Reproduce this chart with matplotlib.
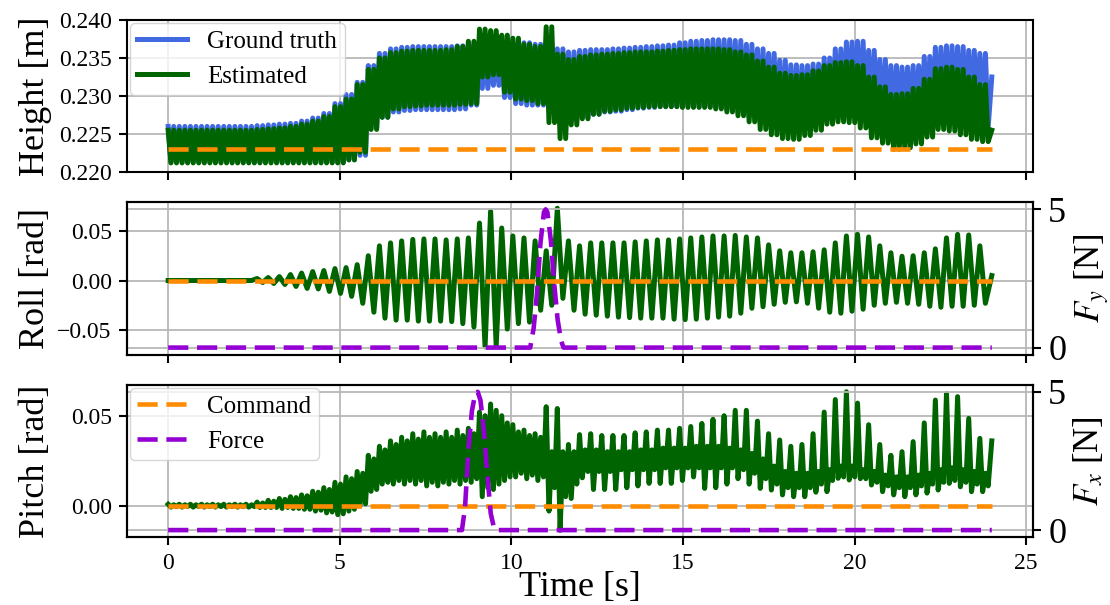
import numpy as np
import matplotlib
matplotlib.use("Agg")
import matplotlib.pyplot as plt
from matplotlib.ticker import FormatStrFormatter

plt.rcParams['font.family'] = 'serif'
plt.rcParams['font.serif'] = ['Liberation Serif', 'DejaVu Serif']
plt.rcParams['mathtext.fontset'] = 'stix'
plt.rcParams['axes.linewidth'] = 1.5
plt.rcParams['xtick.major.width'] = 1.5
plt.rcParams['ytick.major.width'] = 1.5
plt.rcParams['xtick.major.size'] = 5.5
plt.rcParams['ytick.major.size'] = 5.5
plt.rcParams['xtick.major.pad'] = 6
plt.rcParams['ytick.major.pad'] = 5.5
plt.rcParams['grid.color'] = '#b8b8b8'
plt.rcParams['grid.linewidth'] = 1.3

# ------------------------
# Data (one value per gait cycle)
# ------------------------
GAIT_PERIOD = 0.324     # s, spacing of the roll peaks
T_END = 24.0

# height [m]
gt_hi = [0.2260, 0.2260, 0.2260, 0.2260, 0.2260, 0.2260, 0.2260, 0.2260,
         0.2261, 0.2262, 0.2263, 0.2264, 0.2267, 0.2271, 0.2277, 0.2290,
         0.2302, 0.2318, 0.2340, 0.2356, 0.2362, 0.2364, 0.2365, 0.2365,
         0.2365, 0.2365, 0.2366, 0.2368, 0.2365, 0.2362, 0.2366, 0.2370,
         0.2370, 0.2368, 0.2370, 0.2362, 0.2358, 0.2360, 0.2361, 0.2361,
         0.2362, 0.2363, 0.2364, 0.2365, 0.2366, 0.2367, 0.2370, 0.2372,
         0.2373, 0.2374, 0.2374, 0.2373, 0.2368, 0.2362, 0.2356, 0.2347,
         0.2341, 0.2340, 0.2342, 0.2350, 0.2362, 0.2371, 0.2372, 0.2360,
         0.2348, 0.2340, 0.2338, 0.2340, 0.2352, 0.2364, 0.2366, 0.2365,
         0.2360, 0.2356]
gt_lo = [0.2213, 0.2213, 0.2213, 0.2213, 0.2213, 0.2213, 0.2213, 0.2213,
         0.2213, 0.2213, 0.2213, 0.2213, 0.2213, 0.2213, 0.2213, 0.2213,
         0.2216, 0.2222, 0.2258, 0.2272, 0.2279, 0.2281, 0.2282, 0.2282,
         0.2282, 0.2282, 0.2283, 0.2288, 0.2310, 0.2314, 0.2298, 0.2290,
         0.2288, 0.2288, 0.2285, 0.2272, 0.2268, 0.2272, 0.2276, 0.2279,
         0.2280, 0.2282, 0.2284, 0.2285, 0.2286, 0.2286, 0.2286, 0.2286,
         0.2286, 0.2285, 0.2282, 0.2278, 0.2272, 0.2264, 0.2257, 0.2254,
         0.2253, 0.2255, 0.2261, 0.2267, 0.2270, 0.2272, 0.2268, 0.2260,
         0.2255, 0.2254, 0.2255, 0.2256, 0.2258, 0.2262, 0.2266, 0.2263,
         0.2261, 0.2259]
est_hi = [0.2255, 0.2255, 0.2255, 0.2255, 0.2255, 0.2255, 0.2255, 0.2255,
          0.2256, 0.2257, 0.2258, 0.2260, 0.2263, 0.2267, 0.2273, 0.2286,
          0.2296, 0.2315, 0.2335, 0.2350, 0.2357, 0.2359, 0.2360, 0.2360,
          0.2360, 0.2361, 0.2365, 0.2372, 0.2388, 0.2386, 0.2380, 0.2376,
          0.2368, 0.2365, 0.2391, 0.2355, 0.2348, 0.2352, 0.2354, 0.2355,
          0.2356, 0.2357, 0.2358, 0.2358, 0.2359, 0.2360, 0.2361, 0.2362,
          0.2362, 0.2362, 0.2361, 0.2358, 0.2354, 0.2346, 0.2338, 0.2330,
          0.2327, 0.2328, 0.2333, 0.2340, 0.2344, 0.2345, 0.2340, 0.2325,
          0.2312, 0.2302, 0.2303, 0.2310, 0.2322, 0.2336, 0.2338, 0.2335,
          0.2325, 0.2315]
est_lo = [0.2212, 0.2212, 0.2212, 0.2212, 0.2212, 0.2212, 0.2212, 0.2212,
          0.2212, 0.2212, 0.2212, 0.2212, 0.2212, 0.2212, 0.2212, 0.2212,
          0.2216, 0.2226, 0.2256, 0.2272, 0.2283, 0.2286, 0.2287, 0.2288,
          0.2288, 0.2288, 0.2289, 0.2290, 0.2325, 0.2328, 0.2305, 0.2296,
          0.2294, 0.2290, 0.2265, 0.2244, 0.2262, 0.2270, 0.2276, 0.2280,
          0.2282, 0.2284, 0.2285, 0.2286, 0.2286, 0.2286, 0.2285, 0.2285,
          0.2285, 0.2283, 0.2279, 0.2274, 0.2266, 0.2256, 0.2249, 0.2244,
          0.2243, 0.2248, 0.2255, 0.2263, 0.2266, 0.2265, 0.2258, 0.2245,
          0.2238, 0.2230, 0.2232, 0.2237, 0.2246, 0.2256, 0.2254, 0.2249,
          0.2243, 0.2240]
gt_end, est_end = 0.2325, 0.2255
height_cmd = 0.223

# roll [rad]
roll_peaks = [0, 0, 0, 0, 0, 0, 0, 0,
              0.002, 0.003, 0.004, 0.006, 0.0075, 0.009, 0.010, 0.012,
              0.013, 0.016, 0.025, 0.035, 0.038, 0.040, 0.0415, 0.042,
              0.042, 0.041, 0.042, 0.043, 0.058, 0.070, 0.053, 0.045,
              0.043, 0.040, 0.030, 0.073, 0.040, 0.035, 0.038, 0.038,
              0.038, 0.038, 0.039, 0.040, 0.041, 0.041, 0.042, 0.043,
              0.044, 0.045, 0.045, 0.0455, 0.044, 0.043, 0.036, 0.030,
              0.028, 0.028, 0.029, 0.031, 0.038, 0.045, 0.0466, 0.044,
              0.035, 0.028, 0.0245, 0.025, 0.028, 0.032, 0.043, 0.0466,
              0.046, 0.035]
roll_troughs = [0, 0, 0, 0, 0, 0, 0, 0,
                -0.002, -0.003, -0.004, -0.006, -0.008, -0.0085, -0.011, -0.013,
                -0.016, -0.023, -0.032, -0.038, -0.040, -0.040, -0.041, -0.041,
                -0.041, -0.0415, -0.0435, -0.047, -0.067, -0.066, -0.049, -0.0435,
                -0.042, -0.030, -0.025, -0.018, -0.030, -0.034, -0.035, -0.036,
                -0.037, -0.0375, -0.038, -0.038, -0.038, -0.039, -0.0395, -0.039,
                -0.038, -0.037, -0.036, -0.033, -0.028, -0.0265, -0.024, -0.022,
                -0.0215, -0.023, -0.028, -0.032, -0.033, -0.031, -0.029, -0.025,
                -0.023, -0.022, -0.023, -0.024, -0.026, -0.027, -0.026, -0.026,
                -0.025, -0.023]
roll_end = 0.005

# pitch [rad]: big peak, deep dip, small peak, shallow dip per cycle
pitch_hi = [0.0008, 0.0008, 0.0008, 0.0008, 0.0008, 0.0008, 0.0008, 0.0008,
            0.002, 0.003, 0.004, 0.005, 0.006, 0.008, 0.010, 0.013,
            0.016, 0.019, 0.028, 0.033, 0.036, 0.038, 0.040, 0.041,
            0.040, 0.041, 0.042, 0.043, 0.052, 0.0565, 0.050, 0.045,
            0.042, 0.040, 0.055, 0.054, 0.034, 0.0395, 0.040, 0.039,
            0.039, 0.039, 0.0405, 0.041, 0.042, 0.042, 0.043, 0.044,
            0.0457, 0.048, 0.050, 0.053, 0.053, 0.047, 0.040, 0.0365,
            0.033, 0.034, 0.040, 0.052, 0.059, 0.0633, 0.057, 0.045,
            0.034, 0.028, 0.030, 0.0356, 0.046, 0.0587, 0.0624, 0.0606,
            0.0485, 0.0374]
pitch_lo = [-0.0008, -0.0008, -0.0008, -0.0008, -0.0008, -0.0008, -0.0008, -0.0008,
            -0.001, -0.001, -0.0015, -0.0015, -0.002, -0.003, -0.004, -0.005,
            -0.003, 0.000, 0.008, 0.012, 0.012, 0.012, 0.012, 0.011,
            0.011, 0.012, 0.012, 0.013, 0.005, 0.009, 0.014, 0.016,
            0.015, 0.014, -0.003, -0.0137, 0.004, 0.0155, 0.009, 0.009,
            0.009, 0.010, 0.011, 0.0124, 0.0124, 0.0124, 0.014, 0.016,
            0.0096, 0.010, 0.012, 0.015, 0.012, 0.0096, 0.0087, 0.006,
            0.005, 0.005, 0.0075, 0.0078, 0.0152, 0.0143, 0.015, 0.0115,
            0.0078, 0.006, 0.005, 0.006, 0.007, 0.0087, 0.0124, 0.0105,
            0.0078, 0.0078]
pitch_mid = [0.0005, 0.0005, 0.0005, 0.0005, 0.0005, 0.0005, 0.0005, 0.0005,
             0.0015, 0.0025, 0.0035, 0.0045, 0.0055, 0.0075, 0.009, 0.012,
             0.015, 0.018, 0.026, 0.031, 0.034, 0.036, 0.037, 0.038,
             0.038, 0.038, 0.039, 0.040, 0.050, 0.053, 0.046, 0.041,
             0.039, 0.038, 0.030, 0.030, 0.030, 0.031, 0.031, 0.030,
             0.030, 0.030, 0.031, 0.031, 0.032, 0.032, 0.032, 0.033,
             0.033, 0.033, 0.032, 0.031, 0.029, 0.026, 0.022, 0.019,
             0.018, 0.018, 0.019, 0.020, 0.022, 0.022, 0.020, 0.019,
             0.017, 0.016, 0.016, 0.017, 0.018, 0.020, 0.021, 0.020,
             0.019, 0.018]
pitch_dip = [-0.0005, -0.0005, -0.0005, -0.0005, -0.0005, -0.0005, -0.0005, -0.0005,
             -0.001, -0.001, -0.001, -0.0015, -0.002, -0.0025, -0.0035, -0.0045,
             -0.002, 0.001, 0.009, 0.013, 0.014, 0.014, 0.014, 0.013,
             0.013, 0.014, 0.014, 0.015, 0.010, 0.012, 0.016, 0.018,
             0.017, 0.016, 0.010, 0.005, 0.012, 0.019, 0.019, 0.019,
             0.020, 0.020, 0.020, 0.020, 0.021, 0.021, 0.021, 0.021,
             0.021, 0.021, 0.021, 0.020, 0.018, 0.015, 0.012, 0.010,
             0.010, 0.010, 0.012, 0.014, 0.016, 0.016, 0.015, 0.013,
             0.011, 0.010, 0.010, 0.011, 0.012, 0.013, 0.014, 0.013,
             0.012, 0.011]
pitch_end = 0.036

# disturbance forces [N]
fy_t = [0, 10.55, 10.65, 10.75, 10.85, 10.95, 11.0, 11.05, 11.15, 11.25, 11.35, 11.45, 11.52, 24]
fy = [0, 0, 0.7, 2.0, 3.8, 4.9, 5.0, 4.9, 3.9, 2.3, 1.0, 0.25, 0, 0]
fx_t = [0, 8.56, 8.65, 8.75, 8.85, 8.95, 9.02, 9.1, 9.2, 9.3, 9.4, 9.5, 9.55, 24]
fx = [0, 0, 0.8, 2.9, 4.3, 4.95, 5.0, 4.7, 3.6, 2.0, 0.6, 0.05, 0, 0]

cmd_t = [0, T_END]

BLUE, GREEN, ORANGE, PURPLE = 'royalblue', 'darkgreen', 'darkorange', 'darkviolet'
DASH = (0, (4.4, 1.9))


def zigzag(*series, end):
    # one vertex per listed extremum, cycles laid out back to back
    vals = np.column_stack(series).ravel()
    t = np.arange(len(vals)) * GAIT_PERIOD / len(series)
    return np.append(t, T_END), np.append(vals, end)


t_gt, gt = zigzag(gt_hi, gt_lo, gt_hi, gt_lo, end=gt_end)
t_est, est = zigzag(est_hi, est_lo, est_hi, est_lo, end=est_end)
t_roll, roll = zigzag(roll_peaks, roll_troughs, end=roll_end)
t_pitch, pitch = zigzag(pitch_hi, pitch_lo, pitch_mid, pitch_dip, end=pitch_end)

# ------------------------
# Figure
# ------------------------
fig, (ax1, ax2, ax3) = plt.subplots(3, 1, sharex=True, figsize=(11.1, 6.05), dpi=100)
fig.subplots_adjust(left=0.1144, right=0.9306, top=0.967, bottom=0.1124, hspace=0.2)

# height
ax1.plot(t_gt, gt, color=BLUE, lw=3.6, label='Ground truth')
ax1.plot(t_est, est, color=GREEN, lw=3.6, label='Estimated')
ax1.plot(cmd_t, [height_cmd] * 2, color=ORANGE, lw=3.3, ls=DASH)
ax1.set_ylim(0.220, 0.240)
ax1.set_yticks(np.arange(0.220, 0.2401, 0.005))
ax1.yaxis.set_major_formatter(FormatStrFormatter('%.3f'))
ax1.set_ylabel('Height [m]', fontsize=26)
ax1.legend(loc='upper left', fontsize=18, borderaxespad=0.12, borderpad=0.3)

# roll
ax2.plot(t_roll, roll, color=GREEN, lw=3.6)
ax2.plot(cmd_t, [0, 0], color=ORANGE, lw=3.3, ls=DASH)
ax2.set_ylim(-0.0747, 0.0788)
ax2.set_yticks([-0.05, 0.0, 0.05])
ax2.set_ylabel('Roll [rad]', fontsize=26)
ax2t = ax2.twinx()
ax2t.plot(fy_t, fy, color=PURPLE, lw=3.3, ls=DASH)
ax2t.set_ylim(-0.25, 5.25)
ax2t.set_yticks([0, 5])
ax2t.set_ylabel(r'$F_y$ [N]', fontsize=25)

# pitch
ax3.plot(t_pitch, pitch, color=GREEN, lw=3.6)
cmd_line, = ax3.plot(cmd_t, [0, 0], color=ORANGE, lw=3.3, ls=DASH)
ax3.set_ylim(-0.0174, 0.0671)
ax3.set_yticks([0.0, 0.05])
ax3.set_ylabel('Pitch [rad]', fontsize=26)
ax3t = ax3.twinx()
force_line, = ax3t.plot(fx_t, fx, color=PURPLE, lw=3.3, ls=DASH)
ax3t.set_ylim(-0.25, 5.25)
ax3t.set_yticks([0, 5])
ax3t.set_ylabel(r'$F_x$ [N]', fontsize=25)
ax3t.legend([cmd_line, force_line], ['Command', 'Force'], loc='upper left',
            fontsize=18, borderaxespad=0.12, borderpad=0.3)

ax3.set_xlim(-1.2, 25.2)
ax3.set_xticks([0, 5, 10, 15, 20, 25])
ax3.set_xlabel('Time [s]', fontsize=26, labelpad=-2)

for ax in (ax1, ax2, ax3):
    ax.grid(True)
    ax.tick_params(labelsize=17)
    ax.yaxis.set_label_coords(-0.083, 0.5)
for ax in (ax2t, ax3t):
    ax.grid(True)
    ax.tick_params(labelsize=26)
    ax.yaxis.set_label_coords(1.043, 0.5)

fig.savefig('out.png', dpi=100)
